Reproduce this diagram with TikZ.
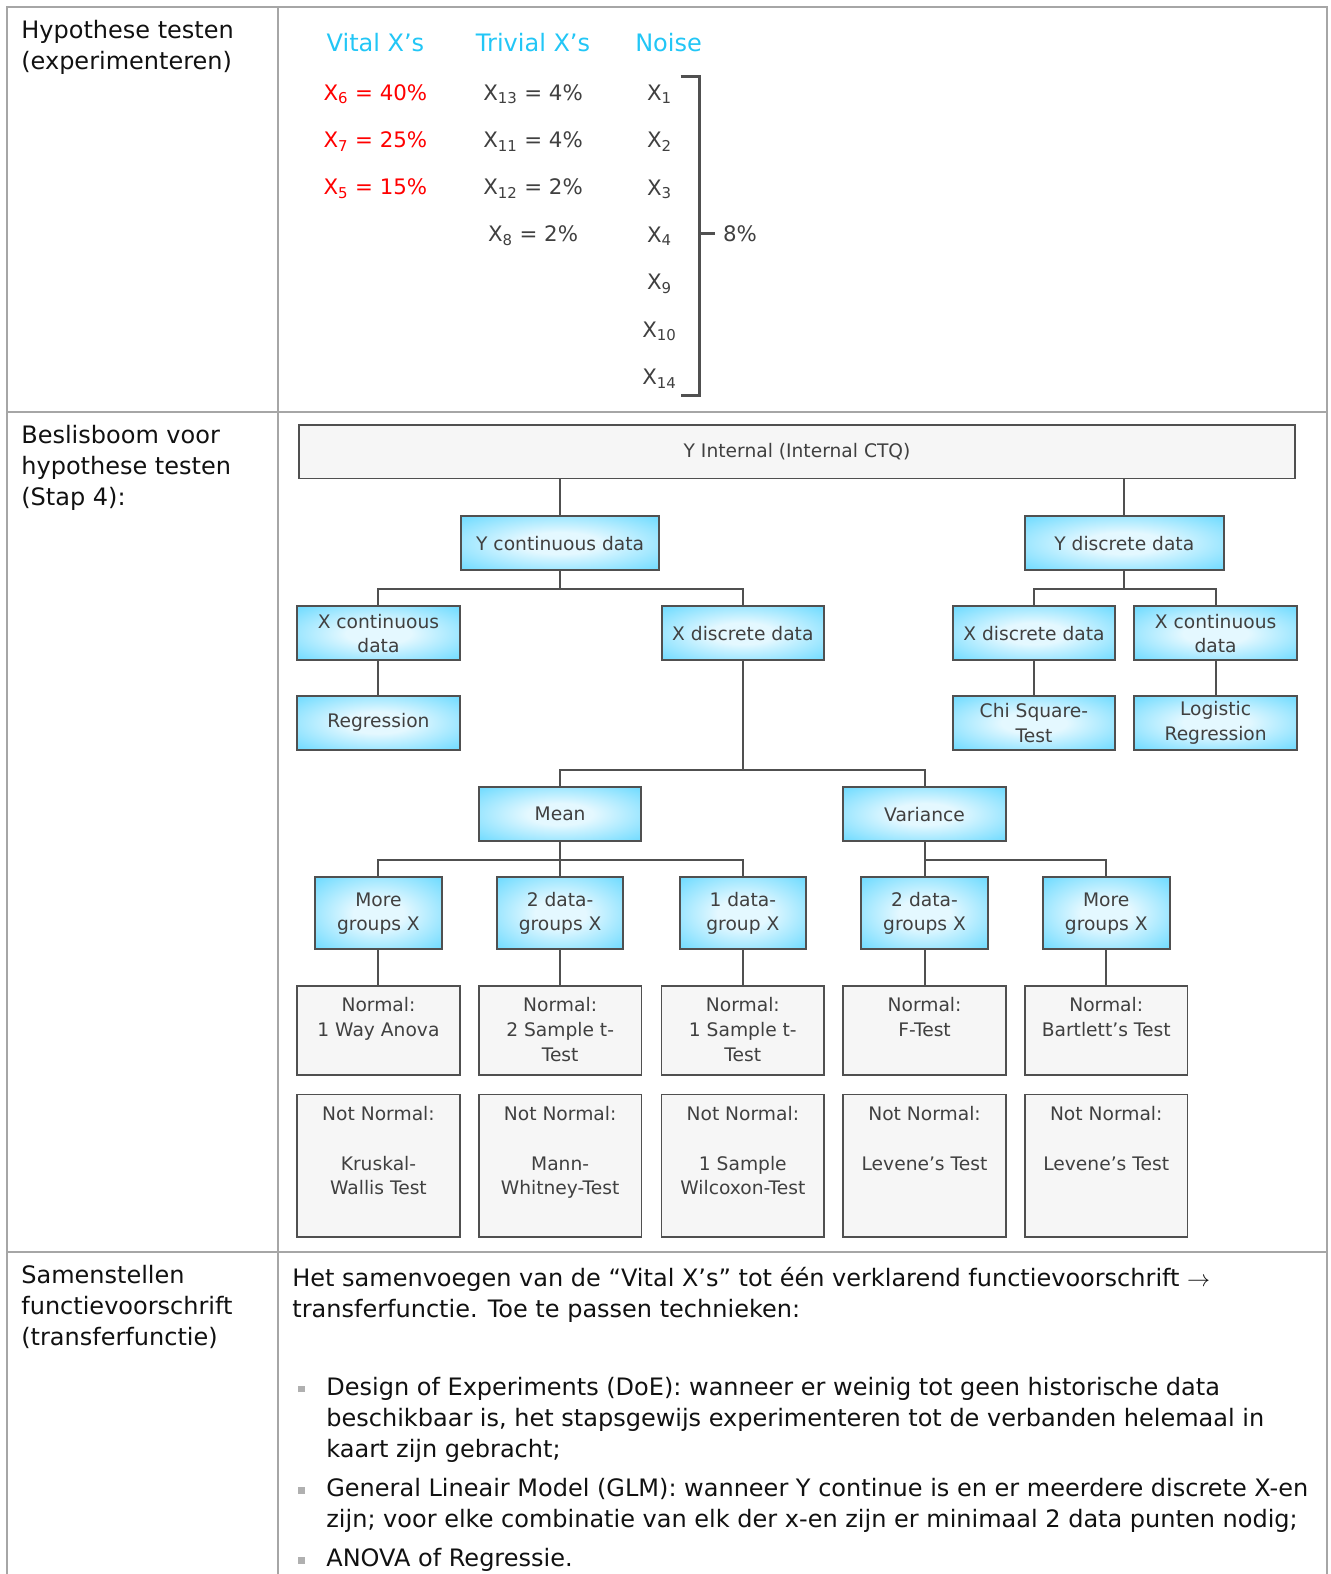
\documentclass[tikz,border=0pt]{standalone}
\usepackage{fontspec}
\setmainfont{DejaVu Sans}
\usetikzlibrary{positioning,calc}
\definecolor{clrcyan}{HTML}{33CCFF}
\definecolor{clrhead}{HTML}{22C6F6}
\definecolor{clrglow}{HTML}{E4F8FF}
\definecolor{clrtext}{HTML}{404040}
\definecolor{clrblack}{HTML}{111111}
\definecolor{clrgrid}{HTML}{A6A6A6}
\definecolor{clredge}{HTML}{505050}
\definecolor{clrpale}{HTML}{F6F6F6}
\definecolor{clrred}{HTML}{FF0000}
\definecolor{clrbullet}{HTML}{B0B0B0}
\pgfdeclareradialshading{boxglow}{\pgfpoint{0bp}{0bp}}{color(0bp)=(clrglow); color(10bp)=(clrglow); color(48bp)=(clrcyan); color(100bp)=(clrcyan)}
\newcommand{\toptext}[2]{\parbox[c][#1][t]{120pt}{\centering\vspace*{9pt}#2}}

\begin{document}
\begin{tikzpicture}[x=0.753pt, y=-0.753pt,
    every node/.style={text=clrtext},
    bigfont/.style={font=\fontsize{18}{23.3}\selectfont},
    xfont/.style={font=\fontsize{16}{20}\selectfont},
    boxfont/.style={font=\fontsize{14}{18.45}\selectfont},
    gridline/.style={draw=clrgrid, line width=1.5pt},
    link/.style={draw=clredge, line width=1.5pt},
    bracket/.style={draw=clredge, line width=2.2pt},
    bluebox/.style={boxfont, draw=clredge, line width=1.5pt, shading=boxglow, align=center, minimum width=122pt, minimum height=40.5pt, inner sep=1pt},
    smallbox/.style={bluebox, minimum width=95pt, minimum height=54pt},
    palebox/.style={boxfont, draw=clredge, line width=1.2pt, fill=clrpale, inner sep=0pt, minimum width=122pt},
  ]
  \useasboundingbox (0,0) rectangle (1325,1568);

  %table grid
  \draw[gridline] (7,1590) |- (1322,7) -- (1322,1590);
  \draw[gridline] (277,7) -- (277,1590);
  \draw[gridline] (7,410) -- (1322,410);
  \draw[gridline] (7,1247) -- (1322,1247);

  %left column
  \node[bigfont, text=clrblack, anchor=north west, align=left, inner sep=0pt] (lab1) at (21,20) {Hypothese testen\\(experimenteren)};
  \node[bigfont, text=clrblack, anchor=north west, align=left, inner sep=0pt] (lab2) at (21,423) {Beslisboom voor\\hypothese testen\\(Stap 4):};
  \node[bigfont, text=clrblack, anchor=north west, align=left, inner sep=0pt] (lab3) at (21,1260) {Samenstellen\\functievoorschrift\\(transferfunctie)};

  %headers
  \node[bigfont, text=clrhead, anchor=base] (vital) at (374,51) {Vital X’s};
  \node[bigfont, text=clrhead, anchor=base] (trivial) at (531,51) {Trivial X’s};
  \node[bigfont, text=clrhead, anchor=base] (noise) at (666,51) {Noise};

  %vital X's
  \foreach \i/\sub/\val in {1/6/40,2/7/25,3/5/15} {
    \node[xfont, text=clrred, anchor=base] (vit\i) at (374,{100+47*(\i-1)}) {X\textsubscript{\sub} = \val\%};
  }
  %trivial X's
  \foreach \i/\sub/\val in {1/13/4,2/11/4,3/12/2,4/8/2} {
    \node[xfont, anchor=base] (triv\i) at (531,{100+47*(\i-1)}) {X\textsubscript{\sub} = \val\%};
  }
  %noise
  \foreach \i/\sub in {1/1,2/2,3/3,4/4,5/9,6/10,7/14} {
    \node[xfont, anchor=base] (noise\i) at (657,{100+47.2*(\i-1)}) {X\textsubscript{\sub}};
  }
  \coordinate (brtop) at (678,76);
  \coordinate (brbot) at (678,394);
  \coordinate (brmid) at (697,233);
  \node[xfont, anchor=west, inner sep=0pt, inner xsep=6pt] (pct) at (712,233) {8\%};
  \draw[bracket] (brtop) -| (brbot -| brmid) -- (brbot);
  \draw[bracket] (brmid) -- (pct.west);

  %decision tree
  \node[palebox, minimum width=747pt, minimum height=40pt] (root) at (794,450) {Y Internal (Internal CTQ)};
  \node[bluebox, minimum width=149pt] (yc) at (558,541) {Y continuous data};
  \node[bluebox, minimum width=149pt] (yd) at (1120,541) {Y discrete data};
  \node[bluebox] (xc1) at (377,631) {X continuous\\data};
  \node[bluebox] (xd1) at (740,631) {X discrete data};
  \node[bluebox] (xd2) at (1030,631) {X discrete data};
  \node[bluebox] (xc2) at (1211,631) {X continuous\\data};
  \node[bluebox] (reg) at (377,720) {Regression};
  \node[bluebox] (chi) at (1030,720) {Chi Square-\\Test};
  \node[bluebox] (logi) at (1211,720) {Logistic\\Regression};
  \node[bluebox] (mean) at (558,811) {Mean};
  \node[bluebox] (var) at (921,811) {Variance};

  \foreach \i/\x/\txt in {1/377/{More\\groups X},2/558/{2 data-\\groups X},3/740/{1 data-\\group X},4/921/{2 data-\\groups X},5/1102/{More\\groups X}} {
    \node[smallbox] (grp\i) at (\x,910) {\txt};
  }
  \foreach \i/\x/\txt in {1/377/{Normal:\\1 Way Anova},2/558/{Normal:\\2 Sample t-\\Test},3/740/{Normal:\\1 Sample t-\\Test},4/921/{Normal:\\F-Test},5/1102/{Normal:\\Bartlett’s Test}} {
    \node[palebox] (norm\i) at (\x,1026.5) {\toptext{67pt}{\txt}};
  }
  \foreach \i/\x/\txt in {1/377/{Kruskal-\\Wallis Test},2/558/{Mann-\\Whitney-Test},3/740/{1 Sample\\Wilcoxon-Test},4/921/{Levene’s Test},5/1102/{Levene’s Test}} {
    \node[palebox] (notn\i) at (\x,1161.5) {\toptext{107pt}{Not Normal:\\[18.45pt]\txt}};
  }

  %connectors
  \draw[link] (root.south -| yc.north) -- (yc.north);
  \draw[link] (root.south -| yd.north) -- (yd.north);
  \draw[link] (yc.south) -- ++(0,18) -| (xc1.north);
  \draw[link] (yc.south) -- ++(0,18) -| (xd1.north);
  \draw[link] (yd.south) -- ++(0,18) -| (xd2.north);
  \draw[link] (yd.south) -- ++(0,18) -| (xc2.north);
  \draw[link] (xc1) -- (reg);
  \draw[link] (xd2) -- (chi);
  \draw[link] (xc2) -- (logi);
  \draw[link] (xd1.south) -- ++(0,108) -| (mean.north);
  \draw[link] (xd1.south) -- ++(0,108) -| (var.north);
  \draw[link] (mean.south) -- ++(0,18) -| (grp1.north);
  \draw[link] (mean.south) -- ++(0,18) -| (grp3.north);
  \draw[link] (mean) -- (grp2);
  \draw[link] (var) -- (grp4);
  \draw[link] (var.south) -- ++(0,18) -| (grp5.north);
  \foreach \i in {1,...,5} {
    \draw[link] (grp\i) -- (norm\i);
  }

  %transfer function text
  \node[bigfont, text=clrblack, anchor=north west, inner sep=0pt] (tekst) at (291,1262) {%
    \begin{minipage}[t]{780pt}\raggedright
    Het samenvoegen van de “Vital X’s” tot één verklarend functievoorschrift $\rightarrow$\\
    transferfunctie. Toe te passen technieken:\par
    \vspace{27pt}
    \setlength{\leftmargini}{25.5pt}
    \setlength{\topsep}{0pt}\setlength{\partopsep}{0pt}
    \renewcommand{\labelitemi}{\textcolor{clrbullet}{\rule[2pt]{5pt}{5pt}}}
    \begin{itemize}\setlength{\labelsep}{16pt}\setlength{\itemsep}{2pt}\setlength{\parsep}{0pt}
      \item Design of Experiments (DoE): wanneer er weinig tot geen historische data\\
        beschikbaar is, het stapsgewijs experimenteren tot de verbanden helemaal in\\
        kaart zijn gebracht;
      \item General Lineair Model (GLM): wanneer Y continue is en er meerdere discrete X-en\\
        zijn; voor elke combinatie van elk der x-en zijn er minimaal 2 data punten nodig;
      \item ANOVA of Regressie.
    \end{itemize}
    \end{minipage}};
\end{tikzpicture}
\end{document}
